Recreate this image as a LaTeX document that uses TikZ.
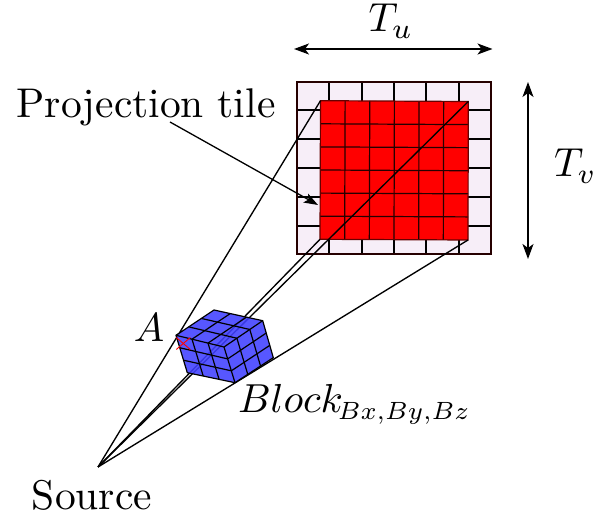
\documentclass[tikz,border=0pt]{standalone}
\usepackage{graphicx}
\usetikzlibrary{calc,arrows.meta}
\definecolor{tilebg}{HTML}{F7EEF8}
\definecolor{blockblue}{HTML}{4040FF}
\tikzset{
  ray/.style={line width=1.35pt,black},
  grid line/.style={line width=1.2pt,black!85!red},
  block line/.style={line width=1.2pt,black},
  dim/.style={line width=1.3pt,{Stealth[length=15pt,width=11pt,inset=4pt]}-{Stealth[length=15pt,width=11pt,inset=4pt]}},
  label text/.style={scale=4.15,inner sep=0pt,outer sep=0pt},
  math text/.style={scale=4.05,inner sep=0pt,outer sep=0pt}
}
\begin{document}
\begin{tikzpicture}[x=1pt,y=-1pt]
\useasboundingbox (0,0) rectangle (611,518);
% tile
\coordinate (o1) at (297,82); \coordinate (o2) at (491,82);
\coordinate (o3) at (491,254); \coordinate (o4) at (297,254);
\fill[tilebg] (o1) rectangle (o3);
\foreach \x in {329,362,394,426,459} \draw[line width=1.6pt] (\x,82) -- (\x,254);
\foreach \y in {110,139,168,197,226} \draw[line width=1.6pt] (297,\y) -- (491,\y);
\draw[line width=1.4pt,black!85!red] (o1) rectangle (o3);
% projection
\coordinate (p1) at (320.5,100.7); \coordinate (p2) at (468.3,101.5);
\coordinate (p3) at (468,240); \coordinate (p4) at (320,239.3);
\fill[red] (p1) -- (p2) -- (p3) -- (p4) -- cycle;
\foreach \i in {1,...,5} {
  \draw[grid line] ($(p1)!\i/6!(p2)$) -- ($(p4)!\i/6!(p3)$);
  \draw[grid line] ($(p1)!\i/6!(p4)$) -- ($(p2)!\i/6!(p3)$);
}
\draw[grid line,black!60!red] (p1) -- (p2) -- (p3) -- (p4) -- cycle;
% rays
\coordinate (src) at (98,467);
\draw[ray] (src) -- (p1);
\draw[ray] (src) -- (p2);
\draw[ray] (src) -- (p3);
\draw[ray] (src) -- (p4);
% block
\coordinate (a) at (176,335.3); \coordinate (t) at (214,310);
\coordinate (r) at (262.7,320.7); \coordinate (n) at (224,347);
\coordinate (rb) at (273.3,357.7); \coordinate (b) at (235,382.7);
\coordinate (lb) at (187.3,372.7);
\fill[blockblue,fill opacity=0.88] (a) -- (t) -- (r) -- (rb) -- (b) -- (lb) -- cycle;
\foreach \i in {1,2} {
  \draw[block line] ($(a)!\i/3!(n)$) -- ($(t)!\i/3!(r)$);
  \draw[block line] ($(a)!\i/3!(t)$) -- ($(n)!\i/3!(r)$);
  \draw[block line] ($(a)!\i/3!(n)$) -- ($(lb)!\i/3!(b)$);
  \draw[block line] ($(a)!\i/3!(lb)$) -- ($(n)!\i/3!(b)$);
  \draw[block line] ($(n)!\i/3!(r)$) -- ($(b)!\i/3!(rb)$);
  \draw[block line] ($(n)!\i/3!(b)$) -- ($(r)!\i/3!(rb)$);
}
\draw[block line] (a) -- (t) -- (r) -- (rb) -- (b) -- (lb) -- cycle;
\draw[block line] (a) -- (n) -- (r);
\draw[block line] (n) -- (b);
% point A marker
\coordinate (m) at (183.3,343.5);
\draw[red,line width=0.9pt] ($(m)+(-7,-6)$) -- ($(m)+(7,6)$);
\draw[red,line width=0.9pt] ($(m)+(-7,6)$) -- ($(m)+(7,-6)$);
% labels
\node[label text,anchor=base] (lproj) at (146,118) {Projection tile};
\node[math text,anchor=base] (ltu) at (391,32) {$T_u$};
\node[math text,anchor=base] (ltv) at (575.5,177) {$T_v$};
\node[math text,anchor=base] (la) at (149,342) {$A$};
\node[math text,anchor=base west] (lblock) at (238,413) {$Block_{\hspace{-1pt}\scalebox{0.88}{$\scriptstyle Bx,By,Bz$}}$};
\node[label text,anchor=base] (lsrc) at (92,510) {Source};
% dimension arrows and pointer
\coordinate (tuL) at (294,49); \coordinate (tuR) at (492.5,49);
\coordinate (tvT) at (528,82); \coordinate (tvB) at (528,259);
\coordinate (pfrom) at (170,122); \coordinate (pto) at (318,205);
\draw[dim] (tuL) -- (tuR);
\draw[dim] (tvT) -- (tvB);
\draw[line width=1.3pt,-{Stealth[length=14pt,width=10pt,inset=3pt]}] (pfrom) -- (pto);
\end{tikzpicture}
\end{document}
